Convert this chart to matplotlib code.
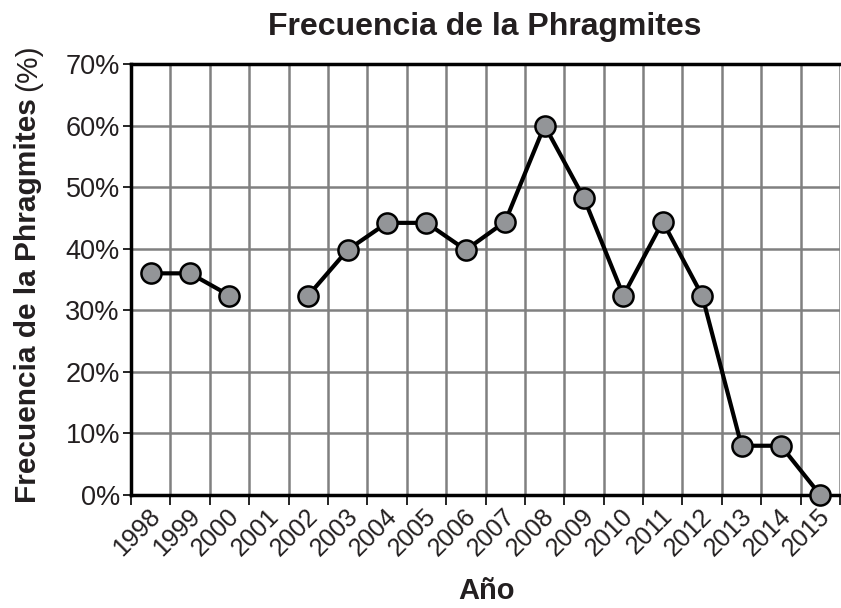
import numpy as np
import matplotlib
matplotlib.use("Agg")
import matplotlib.pyplot as plt
from matplotlib.transforms import ScaledTranslation

plt.rcParams['font.family'] = ['Liberation Sans', 'DejaVu Sans']

years = [str(y) for y in range(1998, 2016)]
freq = [36, 36, 32.4, np.nan, 32.4, 39.8, 44.2, 44.2, 39.8, 44.4, 60, 48.2, 32.4, 44.4, 32.4, 8, 8, 0]
yticks = [0, 10, 20, 30, 40, 50, 60, 70]
ytick_labels = [f"{v}%" for v in yticks]

W, H = 841, 608
fig = plt.figure(figsize=(W / 100, H / 100), dpi=100)
ax = fig.add_axes([131 / W, 1 - 495 / H, (840 - 131) / W, (495 - 64) / H])

txt = '#231f20'
x = np.arange(len(years)) + 0.5
ax.plot(x, freq, color='black', lw=3, marker='o', markersize=14.5,
        markerfacecolor='#939598', markeredgecolor='black', markeredgewidth=1.8,
        zorder=5, clip_on=False)

ax.set_xlim(0, len(years))
ax.set_ylim(0, 70)
ax.set_xticks(np.arange(0, len(years) + 1))
ax.set_xticklabels([])
# year labels: rotated box's right edge sits just left of the tick to the right of each point
off = ScaledTranslation(-5 / 100, -9 / 100, fig.dpi_scale_trans)
tr = ax.get_xaxis_transform() + off
for i, yr in enumerate(years):
    ax.text(i + 1, 0, yr, transform=tr, rotation=45, rotation_mode='default',
            ha='right', va='top', fontsize=18, color=txt, clip_on=False)
ax.set_yticks(yticks)
ax.set_yticklabels(ytick_labels, fontsize=19.5, color=txt)
ax.tick_params(axis='x', length=7, width=1.2, pad=3)
ax.tick_params(axis='y', length=6, width=1.2, pad=2)
ax.grid(True, color='#808080', lw=1.8)
ax.set_axisbelow(True)
for s in ['left', 'bottom', 'top']:
    ax.spines[s].set_linewidth(2.5)
    ax.spines[s].set_color('black')
ax.spines['right'].set_visible(False)

fig.text(485 / W, 1 - 27 / H, 'Frecuencia de la Phragmites', ha='center', va='center',
         fontsize=23, fontweight='bold', color=txt)
fig.text(487 / W, 1 - 591 / H, 'Año', ha='center', va='center',
         fontsize=21, fontweight='bold', color=txt)

t1 = fig.text(28 / W, 1 - 503 / H, 'Frecuencia de la Phragmites', rotation=90,
              ha='center', va='bottom', fontsize=21.5, fontweight='bold', color=txt)
fig.canvas.draw()
bb = t1.get_window_extent(renderer=fig.canvas.get_renderer())
fig.text(28 / W, (bb.y1 + 7) / H, '(%)', rotation=90, ha='center', va='bottom',
         fontsize=21.5, color=txt)

fig.savefig('out.png', dpi=100)
